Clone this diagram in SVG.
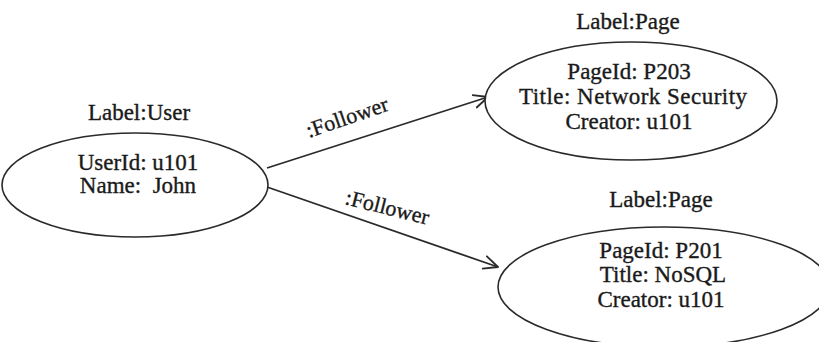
<svg xmlns="http://www.w3.org/2000/svg" width="819" height="342" viewBox="0 0 819 342">
  <style>
    text { font-family: "Liberation Serif", "Times New Roman", serif; font-size: 23px; fill: #1a1a1a; stroke: #1a1a1a; stroke-width: 0.35; text-anchor: middle; white-space: pre; }
    .node { fill: #ffffff; stroke: #2a2a2a; stroke-width: 1.6; }
    .edge { fill: none; stroke: #2a2a2a; stroke-width: 1.8; }
    .edge-label { text-anchor: start; font-size: 22px; }
  </style>
  <defs>
    <marker id="open-arrow" viewBox="0 0 16 16" refX="15" refY="8" markerWidth="16" markerHeight="16" markerUnits="userSpaceOnUse" orient="auto">
      <path d="M1,1.5 L15,8 L1,14.5" fill="none" stroke="#2a2a2a" stroke-width="1.8" stroke-linecap="round" stroke-linejoin="round"/>
    </marker>
  </defs>
  <rect width="819" height="342" fill="#ffffff"/>

  <g id="connectors">
    <line class="edge" x1="267" y1="168" x2="488" y2="97" marker-end="url(#open-arrow)"/>
    <text class="edge-label" transform="translate(309 138) rotate(-19)">:Follower</text>
    <line class="edge" x1="267" y1="187" x2="498" y2="267" marker-end="url(#open-arrow)"/>
    <text class="edge-label" transform="translate(344 204) rotate(14)">:Follower</text>
  </g>

  <g id="user">
    <text x="139" y="120">Label:User</text>
    <ellipse class="node" cx="135" cy="185" rx="133" ry="52"/>
    <text x="138" y="170">UserId: u101</text>
    <text x="138" y="193">Name:  John</text>
  </g>

  <g id="page-p203">
    <text x="628" y="29">Label:Page</text>
    <ellipse class="node" cx="631" cy="101" rx="146" ry="59"/>
    <text x="629" y="79">PageId: P203</text>
    <text x="633" y="104" textLength="228">Title: Network Security</text>
    <text x="629" y="129">Creator: u101</text>
  </g>

  <g id="page-p201">
    <text x="661" y="207">Label:Page</text>
    <ellipse class="node" cx="664" cy="287" rx="166" ry="60"/>
    <text x="661" y="258">PageId: P201</text>
    <text x="663" y="282">Title: NoSQL</text>
    <text x="661" y="307">Creator: u101</text>
  </g>
</svg>
